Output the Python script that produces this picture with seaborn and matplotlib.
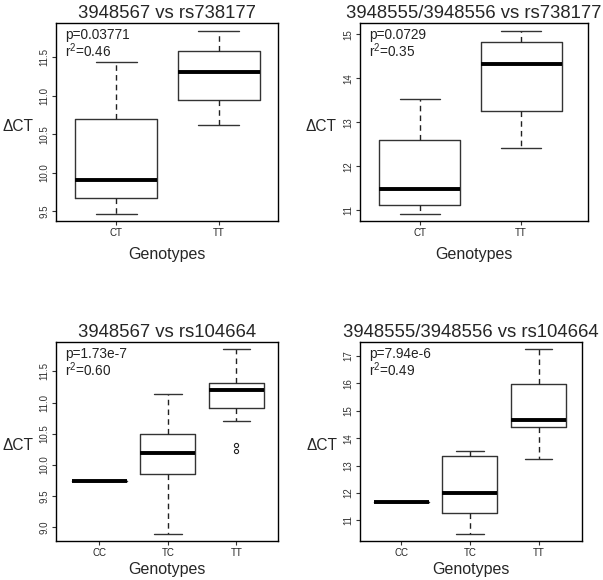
import numpy as np
import matplotlib
matplotlib.use("Agg")
import matplotlib.pyplot as plt
import seaborn as sns

# five-number summaries: (whislo, q1, med, q3, whishi)
genotypes_738177 = ["CT", "TT"]
genotypes_104664 = ["CC", "TC", "TT"]

s3948567_rs738177 = [(9.47, 9.67, 9.91, 10.70, 11.44),
                     (10.62, 10.95, 11.31, 11.59, 11.85)]
s3948555_rs738177 = [(10.92, 11.11, 11.49, 12.60, 13.54),
                     (12.41, 13.25, 14.32, 14.82, 15.09)]
s3948567_rs104664 = [(9.75, 9.75, 9.75, 9.75, 9.75),
                     (8.90, 9.85, 10.19, 10.49, 11.14),
                     (10.70, 10.92, 11.20, 11.31, 11.85)]
s3948555_rs104664 = [(11.66, 11.66, 11.66, 11.66, 11.66),
                     (10.51, 11.28, 12.00, 13.34, 13.52),
                     (13.24, 14.40, 14.65, 15.96, 17.24)]
outliers_3948567_rs104664 = [[], [], [10.32, 10.22]]

titles = ["3948567 vs rs738177", "3948555/3948556 vs rs738177",
          "3948567 vs rs104664", "3948555/3948556 vs rs104664"]
pvals = ["p=0.03771", "p=0.0729", "p=1.73e-7", "p=7.94e-6"]
r2s = ["r$^2$=0.46", "r$^2$=0.35", "r$^2$=0.60", "r$^2$=0.49"]
yticks = [[9.5, 10.0, 10.5, 11.0, 11.5], [11, 12, 13, 14, 15],
          [9.0, 9.5, 10.0, 10.5, 11.0, 11.5], [11, 12, 13, 14, 15, 16, 17]]
yfmt = ["{:.1f}", "{:.0f}", "{:.1f}", "{:.0f}"]

sns.set_style("white")
plt.rcParams["font.family"] = ["Liberation Sans", "DejaVu Sans"]
plt.rcParams["mathtext.default"] = "regular"

fig = plt.figure(figsize=(6.03, 5.80), dpi=100)
positions = [[56 / 603, 0.619, 222 / 603, 0.341],
             [360 / 603, 0.619, 228 / 603, 0.341],
             [56 / 603, 0.0672, 222 / 603, 0.343],
             [360 / 603, 0.0672, 222 / 603, 0.343]]
xlims = [(0.41, 2.58), (0.41, 2.66), (0.365, 3.61), (0.40, 3.63)]
label_y = [-0.13, -0.13, -0.105, -0.105]

panels = [(s3948567_rs738177, genotypes_738177, None),
          (s3948555_rs738177, genotypes_738177, None),
          (s3948567_rs104664, genotypes_104664, outliers_3948567_rs104664),
          (s3948555_rs104664, genotypes_104664, None)]

for i, (summ, cats, fl) in enumerate(panels):
    ax = fig.add_axes(positions[i])
    stats = []
    for j, (lo, q1, med, q3, hi) in enumerate(summ):
        stats.append(dict(label=cats[j], whislo=lo, q1=q1, med=med, q3=q3,
                          whishi=hi, fliers=fl[j] if fl else []))
    ax.bxp(stats, positions=range(1, len(cats) + 1), widths=0.8,
           boxprops=dict(color="#333333", lw=1.0),
           whiskerprops=dict(color="#222222", lw=1.0, linestyle=(0, (4, 3))),
           capprops=dict(color="#333333", lw=1.0),
           capwidths=0.4,
           medianprops=dict(color="black", lw=2.8, solid_capstyle="butt"),
           flierprops=dict(marker="o", markersize=3, mfc="none", mec="#222222", mew=0.8))

    allv = [v for s in summ for v in s] + [v for f in (fl or []) for v in f]
    lo, hi = min(allv), max(allv)
    pad = 0.04 * (hi - lo)
    ax.set_ylim(lo - pad, hi + pad)
    ax.set_xlim(*xlims[i])
    ax.set_yticks(yticks[i])
    ax.set_yticklabels([yfmt[i].format(t) for t in yticks[i]], rotation=90,
                       va="center", fontsize=7, color="#333333")
    ax.set_xticks(range(1, len(cats) + 1))
    ax.set_xticklabels(cats, fontsize=7, color="#222222")
    ax.tick_params(axis="both", which="major", length=3, width=0.8,
                   direction="out", color="#333333", pad=2, left=True, bottom=True)
    for sp in ax.spines.values():
        sp.set_color("black")
        sp.set_linewidth(1.0)

    ax.set_title(titles[i], fontsize=13.3, pad=4)
    ax.set_xlabel("Genotypes", fontsize=11.5)
    ax.xaxis.set_label_coords(0.5, label_y[i])
    ax.xaxis.label.set_va("top")
    ax.set_ylabel("\u0394CT", fontsize=11.2, rotation=0, ha="center", va="center")
    ax.yaxis.set_label_coords(-0.17, 0.48)

    ax.text(0.04, 0.975, pvals[i], transform=ax.transAxes, fontsize=9.8,
            va="top", ha="left", color="#222222")
    ax.text(0.04, 0.91, r2s[i], transform=ax.transAxes, fontsize=9.8,
            va="top", ha="left", color="#222222")

fig.savefig("out.png", dpi=100)
